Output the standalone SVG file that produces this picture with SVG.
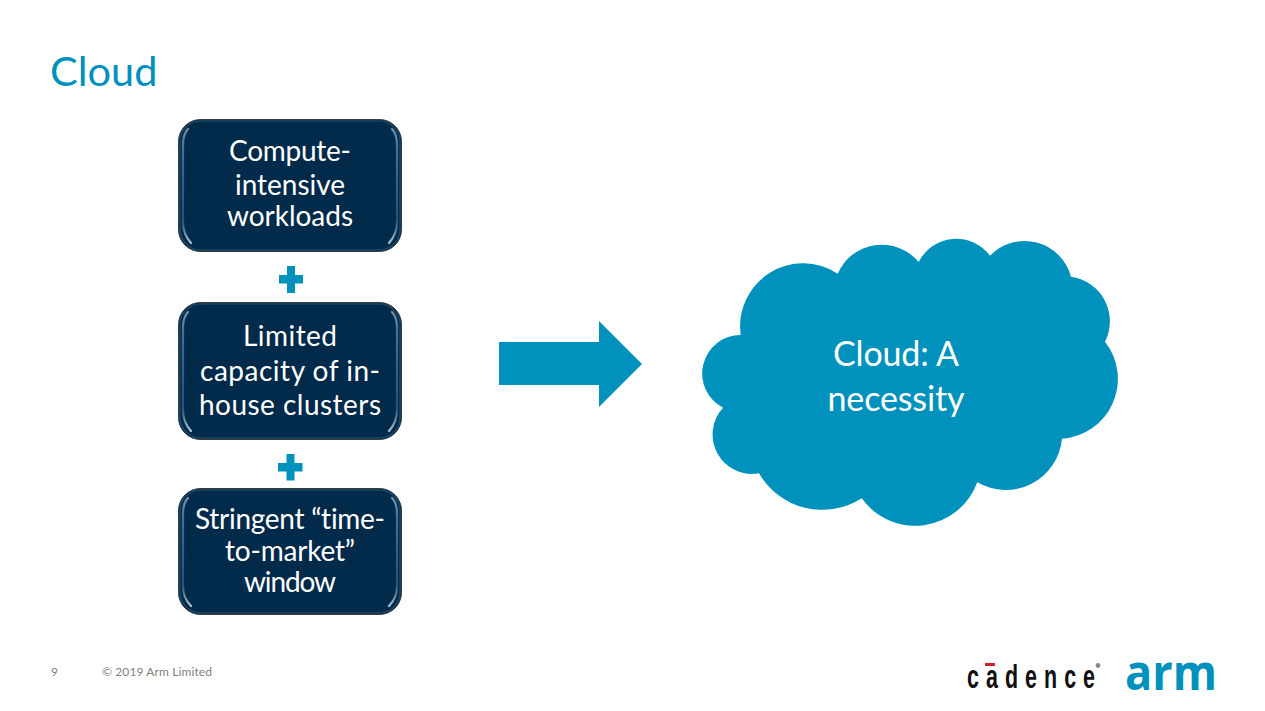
<svg xmlns="http://www.w3.org/2000/svg" width="1265" height="711" viewBox="0 0 1265 711">
<defs>
<linearGradient id="glowGrad" x1="0" y1="0" x2="0" y2="1">
<stop offset="0" stop-color="#9fc3da" stop-opacity=".7"/>
<stop offset=".18" stop-color="#5f8fb0" stop-opacity=".7"/>
<stop offset=".8" stop-color="#3c6c8e" stop-opacity=".6"/>
<stop offset="1" stop-color="#c4d8e6" stop-opacity=".9"/>
</linearGradient>
</defs>
<style>
text{font-family:"Lato","Carlito","Open Sans",sans-serif;font-variant-ligatures:none}
.box{fill:#022a4a;stroke:#3a3a3a;stroke-width:1}
.bevel{fill:none;stroke:#1a4767;stroke-width:1.500}
.glow{fill:none;stroke:url(#glowGrad);stroke-width:2.200;stroke-linecap:round}
.t{fill:#fff;font-size:28px;text-anchor:middle}
.c{fill:#0091bd}
.f{fill:#808080;font-size:12px}
</style>
<rect width="1265" height="711" fill="#fff"/>
<text id="title" x="50" y="86" class="c" style="font-size:41.500px">Cloud</text>
<g id="node-compute">
<rect class="box" x="178.500" y="119.500" width="223" height="132" rx="22"/>
<rect class="bevel" x="180" y="121" width="220" height="129" rx="20.500"/>
<path class="glow" d="M188 129Q183 134 183 145V222Q183 234 191 243M392 129Q397 134 397 145V222Q397 234 389 243"/>
<text class="t"><tspan x="290" y="161" textLength="122">Compute-</tspan><tspan x="290" y="195" textLength="110">intensive</tspan><tspan x="290" y="226" textLength="126">workloads</tspan></text>
</g>
<g id="node-capacity">
<rect class="box" x="178.500" y="302.500" width="223" height="137" rx="22"/>
<rect class="bevel" x="180" y="304" width="220" height="134" rx="20.500"/>
<path class="glow" d="M188 312Q183 317 183 328V410Q183 422 191 431M392 312Q397 317 397 328V410Q397 422 389 431"/>
<text class="t"><tspan x="290" y="346" textLength="94">Limited</tspan><tspan x="290" y="381" textLength="180">capacity of in-</tspan><tspan x="290" y="415" textLength="182">house clusters</tspan></text>
</g>
<g id="node-window">
<rect class="box" x="178.500" y="488.500" width="223" height="126" rx="22"/>
<rect class="bevel" x="180" y="490" width="220" height="123" rx="20.500"/>
<path class="glow" d="M188 498Q183 503 183 514V586Q183 598 191 606M392 498Q397 503 397 514V586Q397 598 389 606"/>
<text class="t"><tspan x="290" y="529" textLength="190">Stringent “time-</tspan><tspan x="290" y="561" textLength="130">to-market”</tspan><tspan x="290" y="592" textLength="92">window</tspan></text>
</g>
<g id="plus-1"><path class="c" d="M287 266H295V275H303V283.500H295V293H287V283.500H279V275H287Z"/></g>
<g id="plus-2"><path class="c" d="M286.500 454H294.500V463H302.500V471.500H294.500V480.500H286.500V471.500H278V463H286.500Z"/></g>
<g id="connectors"><path class="c" d="M499 342H599V321L642 364L599 407V385H499Z"/></g>
<g id="node-cloud">
<path class="c" d="M740.700 335A63 63 0 0 1 837.700 273.700A48 48 0 0 1 918.700 262A42 42 0 0 1 990 255.700A48 48 0 0 1 1071 276.700A45 45 0 0 1 1105 341.700A60 60 0 0 1 1062 438.700A56.500 56.500 0 0 1 977.300 482.300A66 66 0 0 1 861.700 498.300A73 73 0 0 1 759 473.300A39.500 39.500 0 0 1 723 407.700A38.500 38.500 0 0 1 740.700 335Z"/>
<text style="font-size:34px;text-anchor:middle" fill="#fff"><tspan x="896" y="366" textLength="126">Cloud: A</tspan><tspan x="896" y="411" textLength="137">necessity</tspan></text>
</g>
<g id="footer">
<text class="f" x="51" y="676">9</text>
<text class="f" x="102" y="676" textLength="110">© 2019 Arm Limited</text>
</g>
<g id="logos">
<rect x="985" y="663" width="10" height="3" fill="#d0202e"/>
<text transform="translate(967 688) scale(.65 1)" fill="#111" textLength="197" style="font-family:'Liberation Sans',sans-serif;font-size:33px;font-weight:700">cadence</text>
<circle cx="1098" cy="665.500" r="2.400" fill="#888"/>
<text x="1125" y="690" textLength="92" lengthAdjust="spacingAndGlyphs" style="font-family:'Open Sans',sans-serif;font-size:50px;font-weight:700" class="c">arm</text>
</g>
</svg>
